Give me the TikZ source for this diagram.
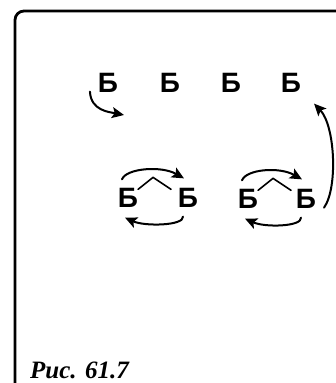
\documentclass[tikz,border=0pt]{standalone}
\usepackage{fontspec}
\setmainfont{Liberation Serif}
\newfontfamily\lettfont{Liberation Sans}
\usetikzlibrary{arrows.meta}

\begin{document}
\begin{tikzpicture}[x=1pt, y=-1pt, line cap=round, line join=round,
    lett/.style={font=\lettfont\bfseries\fontsize{28}{28}\selectfont, inner sep=0pt, outer sep=0pt},
    arr/.style={line width=2pt, -{Stealth[length=12pt, width=11pt, inset=2.5pt]}},
    caret/.style={line width=1.6pt},
    frame/.style={line width=2.8pt}]
  \useasboundingbox (0,0) rectangle (335,383);
  \draw[frame, rounded corners=9pt] (15,386) -- (15,11) -- (338,11);
  % top row
  \node[lett] (b1) at (108,83) {Б};
  \node[lett] (b2) at (170,83) {Б};
  \node[lett] (b3) at (231,83) {Б};
  \node[lett] (b4) at (291,83) {Б};
  \coordinate (tipL) at (124,115);
  \draw[arr] ([shift={(-8,-1)}]b1.south west) .. controls +(1,19) and +(-15,-3) .. (tipL);
  % pairs
  \node[lett] (p1l) at (128,198) {Б};
  \node[lett] (p1r) at (188,198) {Б};
  \node[lett] (p2l) at (248,199) {Б};
  \node[lett] (p2r) at (306,199) {Б};
  \foreach \l/\r in {p1l/p1r, p2l/p2r} {
    \draw[caret] ([shift={(0,1)}]\l.north east) -- ++(15,-12) -- ++(18,12);
    \draw[arr] ([shift={(-6,-9)}]\l.north) .. controls +(4,-11) and +(-23,-13) .. ([shift={(-4,-10)}]\r.north);
    \draw[arr] ([shift={(-5,9)}]\r.south) .. controls +(1,9) and +(20,9) .. ([shift={(-3,10)}]\l.south);
  }
  \draw[arr] ([shift={(8,-1)}]p2r.south east) .. controls +(14,-20) and +(21,22) .. ([shift={(13,11)}]b4.south east);
  % caption
  \node[anchor=base west, inner sep=0pt, font=\bfseries\itshape\fontsize{25}{25}\selectfont] (cap) at (30,378) {Рис. 61.7};
\end{tikzpicture}
\end{document}
